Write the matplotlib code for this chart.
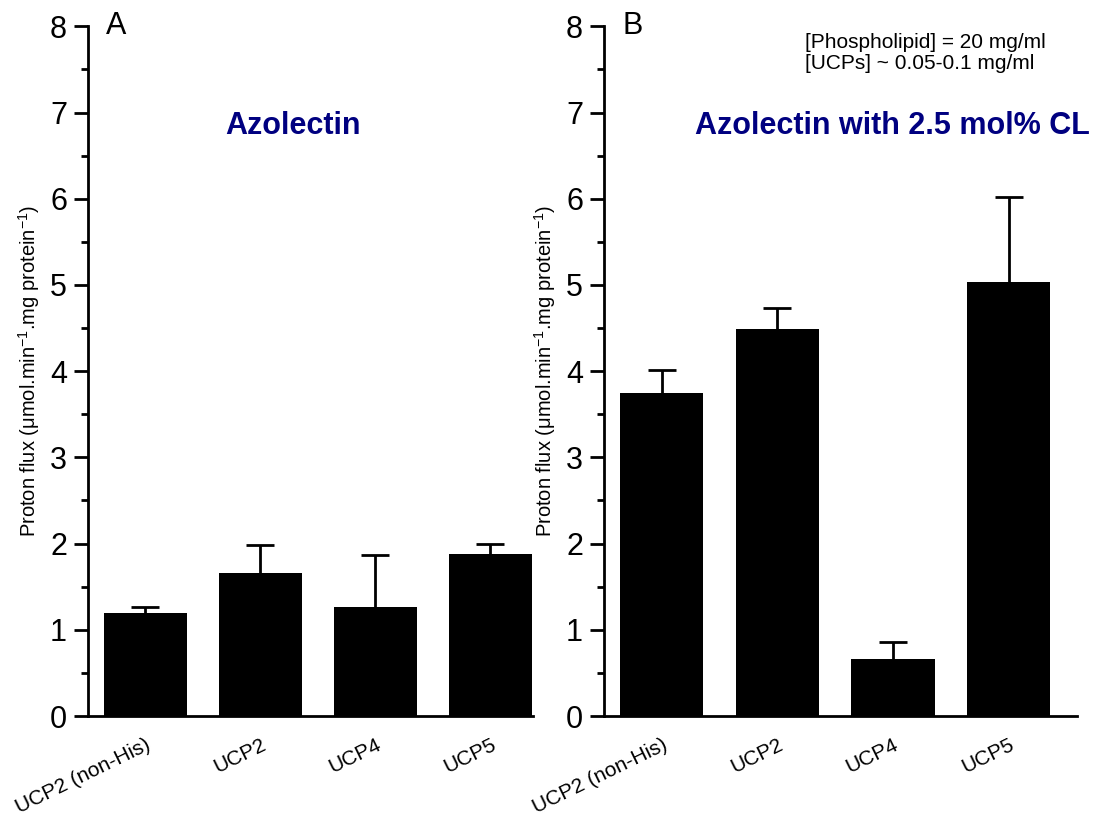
import matplotlib.pyplot as plt
import numpy as np
from matplotlib.ticker import MultipleLocator

plt.rcParams['font.family'] = ['Liberation Sans', 'DejaVu Sans']
plt.rcParams['mathtext.fontset'] = 'custom'
plt.rcParams['mathtext.rm'] = 'Liberation Sans'
plt.rcParams['mathtext.it'] = 'Liberation Sans'

categories = ['UCP2 (non-His)', 'UCP2', 'UCP4', 'UCP5']
azolectin = [1.20, 1.66, 1.27, 1.88]
azolectin_err = [0.06, 0.32, 0.60, 0.11]
azolectin_cl = [3.75, 4.49, 0.66, 5.03]
azolectin_cl_err = [0.26, 0.24, 0.20, 0.99]

navy = '#000080'
ylabel = r'Proton flux ($\mathrm{\mu}$mol.min$^{-1}$.mg protein$^{-1}$)'

fig = plt.figure(figsize=(10.94, 8.23), dpi=100)
ax_a = fig.add_axes([0.0804, 0.130, 0.4068, 0.838])
ax_b = fig.add_axes([0.552, 0.130, 0.4324, 0.838])


def draw_panel(ax, values, errors, letter, title, xmax, title_x):
    x = np.arange(len(categories))
    # bars sit above the error bars so only the upper half shows
    ax.bar(x, values, width=0.72, color='black', zorder=3)
    ax.errorbar(x, values, yerr=errors, fmt='none', ecolor='black',
                elinewidth=2, capsize=10, capthick=2, zorder=2)
    ax.set_xlim(-0.5, xmax)
    ax.set_ylim(0, 8)
    ax.yaxis.set_major_locator(MultipleLocator(1))
    ax.yaxis.set_minor_locator(MultipleLocator(0.5))
    ax.tick_params(axis='y', which='major', length=10, width=2, labelsize=22, pad=5)
    ax.tick_params(axis='y', which='minor', length=5, width=2)
    ax.tick_params(axis='x', length=0, labelsize=15, pad=14)
    ax.set_xticks(x)
    ax.set_xticklabels(categories, rotation=26, ha='right', rotation_mode='anchor')
    for side in ('top', 'right'):
        ax.spines[side].set_visible(False)
    for side in ('left', 'bottom'):
        ax.spines[side].set_linewidth(2)
    ax.set_ylabel(ylabel, fontsize=14.5, labelpad=6)
    ax.text(0.04, 1.0, letter, transform=ax.transAxes, fontsize=22,
            va='center', ha='left')
    ax.text(title_x, 0.855, title, transform=ax.transAxes, fontsize=22,
            fontweight='bold', color=navy, ha='center', va='center')


draw_panel(ax_a, azolectin, azolectin_err, 'A', 'Azolectin', 3.37, 0.46)
draw_panel(ax_b, azolectin_cl, azolectin_cl_err, 'B', 'Azolectin with 2.5 mol% CL', 3.59, 0.61)

ax_b.text(0.425, 0.99, '[Phospholipid] = 20 mg/ml\n[UCPs] ~ 0.05-0.1 mg/ml',
          transform=ax_b.transAxes, fontsize=15, ha='left', va='top',
          linespacing=1.15)

fig.savefig('out.png', dpi=100)
